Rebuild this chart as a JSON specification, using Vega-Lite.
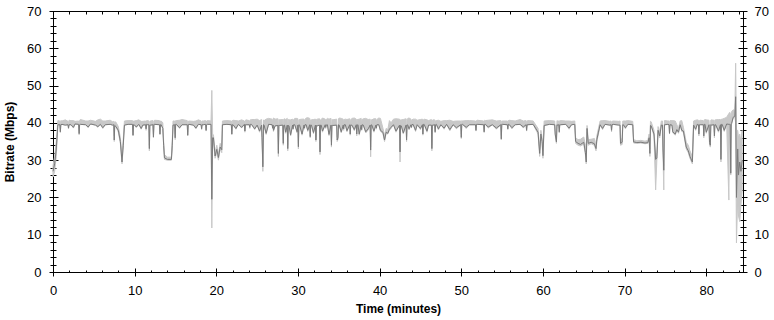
{
 "$schema": "https://vega.github.io/schema/vega-lite/v6.json",
 "width": 690, "height": 261,
 "autosize": "none",
 "padding": {"left": 53, "top": 11, "right": 31, "bottom": 48},
 "background": "white",
 "config": {
  "view": {"stroke": null},
  "axis": {"labelFont": "Liberation Sans", "labelFontSize": 13, "labelColor": "black", "tickColor": "black", "domainColor": "black", "titleFont": "Liberation Sans", "titleFontSize": 12, "titleFontWeight": "bold", "titleColor": "black", "grid": false, "labelFlush": false, "labelOverlap": false, "labelBound": false, "tickWidth": 1, "domainWidth": 1}
 },
 "data": {"values": [
{"t":0,"v":27,"lo":25.5,"hi":28.5},{"t":0.2,"v":29,"lo":27,"hi":31},{"t":0.4,"v":33,"lo":31,"hi":35},{"t":0.6,"v":39.5,"lo":39.5,"hi":40.6},{"t":0.9,"v":37.6,"lo":37.4,"hi":38.5},{"t":1.1,"v":39.6,"lo":39.6,"hi":40.5},{"t":1.5,"v":39.4,"lo":39.4,"hi":40.8},{"t":1.9,"v":38.6,"lo":38.4,"hi":39.4},{"t":2.2,"v":39.5,"lo":39.5,"hi":40.6},{"t":2.7,"v":39.7,"lo":39.7,"hi":40.4},{"t":3.2,"v":37.1,"lo":36.8,"hi":38},{"t":3.35,"v":39.6,"lo":39.6,"hi":40.9},{"t":4.0,"v":39.5,"lo":39.5,"hi":40.5},{"t":4.6,"v":39.7,"lo":39.7,"hi":40.7},{"t":5.2,"v":39.4,"lo":39.4,"hi":40.4},{"t":5.8,"v":39.6,"lo":39.6,"hi":41.0},{"t":6.4,"v":39.5,"lo":39.5,"hi":40.5},{"t":7.0,"v":39.6,"lo":39.6,"hi":40.7},{"t":7.3,"v":39.4,"lo":39.4,"hi":40.3},{"t":7.5,"v":35.4,"lo":35,"hi":36.5},{"t":7.7,"v":39.0,"lo":39,"hi":40.2},{"t":8.0,"v":38.0,"lo":37.5,"hi":39},{"t":8.25,"v":35,"lo":34.5,"hi":36},{"t":8.45,"v":29.5,"lo":29,"hi":31},{"t":8.6,"v":34,"lo":33.5,"hi":35.5},{"t":8.75,"v":39.4,"lo":39.4,"hi":40.5},{"t":9.2,"v":39.6,"lo":39.6,"hi":40.6},{"t":9.8,"v":36.7,"lo":36.5,"hi":37.5},{"t":9.95,"v":39.5,"lo":39.5,"hi":40.5},{"t":10.5,"v":39.6,"lo":39.6,"hi":40.8},{"t":11.0,"v":39.4,"lo":39.4,"hi":40.4},{"t":11.4,"v":38.4,"lo":38,"hi":39.2},{"t":11.6,"v":39.5,"lo":39.5,"hi":40.6},{"t":11.8,"v":33.1,"lo":32.5,"hi":34},{"t":11.95,"v":39.4,"lo":39.4,"hi":40.5},{"t":12.3,"v":36.2,"lo":36,"hi":37},{"t":12.45,"v":39.6,"lo":39.6,"hi":40.7},{"t":13.1,"v":37,"lo":36.8,"hi":38},{"t":13.25,"v":39.5,"lo":39.5,"hi":40.5},{"t":13.45,"v":38.5,"lo":38.5,"hi":40},{"t":13.55,"v":34,"lo":34,"hi":35},{"t":13.65,"v":30.6,"lo":30.2,"hi":31.5},{"t":14.0,"v":30.2,"lo":30,"hi":30.8},{"t":14.5,"v":30.2,"lo":30,"hi":30.8},{"t":14.6,"v":34,"lo":33,"hi":35},{"t":14.7,"v":39.4,"lo":39.4,"hi":40.5},{"t":14.96,"v":36,"lo":35.5,"hi":37},{"t":15.1,"v":39.6,"lo":39.6,"hi":40.6},{"t":15.8,"v":39.5,"lo":39.5,"hi":40.9},{"t":16.5,"v":36.7,"lo":36.5,"hi":37.5},{"t":16.65,"v":39.6,"lo":39.6,"hi":40.5},{"t":17.2,"v":39.4,"lo":39.4,"hi":40.4},{"t":17.8,"v":39.6,"lo":39.6,"hi":40.8},{"t":18.2,"v":38.4,"lo":38.2,"hi":39.2},{"t":18.4,"v":39.5,"lo":39.5,"hi":40.5},{"t":18.75,"v":38,"lo":37.8,"hi":38.8},{"t":18.9,"v":39.6,"lo":39.6,"hi":40.6},{"t":19.35,"v":39.6,"lo":39.6,"hi":40.5},{"t":19.45,"v":19.5,"lo":11.8,"hi":48.7},{"t":19.55,"v":36,"lo":35,"hi":37},{"t":19.65,"v":36,"lo":35,"hi":36.8},{"t":19.85,"v":31.1,"lo":30.5,"hi":32},{"t":20.06,"v":32.9,"lo":32,"hi":34},{"t":20.26,"v":30.7,"lo":30,"hi":31.5},{"t":20.47,"v":33.5,"lo":33,"hi":34.5},{"t":20.67,"v":32.8,"lo":32,"hi":34},{"t":20.75,"v":39.5,"lo":39.5,"hi":40.5},{"t":21.3,"v":39.6,"lo":39.6,"hi":40.6},{"t":21.9,"v":37,"lo":36.8,"hi":37.8},{"t":22.05,"v":39.5,"lo":39.5,"hi":40.7},{"t":22.7,"v":39.6,"lo":39.6,"hi":40.5},{"t":23.5,"v":37.8,"lo":37.5,"hi":38.5},{"t":23.65,"v":39.5,"lo":39.5,"hi":40.8},{"t":24.1,"v":38.8,"lo":38.5,"hi":39.8},{"t":24.3,"v":39.6,"lo":39.6,"hi":40.9},{"t":25.0,"v":39.4,"lo":39.4,"hi":41.0},{"t":25.6,"v":36,"lo":35.5,"hi":37},{"t":25.7,"v":28.2,"lo":27,"hi":29},{"t":25.85,"v":39.4,"lo":39.4,"hi":40.6},{"t":26.4,"v":39.6,"lo":39.6,"hi":41.2},{"t":26.9,"v":38.6,"lo":38.4,"hi":40},{"t":27.2,"v":39.2,"lo":39.2,"hi":41},{"t":27.6,"v":31.8,"lo":31,"hi":32.8},{"t":27.75,"v":39.3,"lo":39.3,"hi":40.8},{"t":28.2,"v":34.5,"lo":34,"hi":35.5},{"t":28.35,"v":39.4,"lo":39.4,"hi":41.1},{"t":28.75,"v":33.1,"lo":32.5,"hi":34},{"t":28.9,"v":39.2,"lo":39.2,"hi":40.8},{"t":29.4,"v":38.4,"lo":38.2,"hi":39.8},{"t":29.6,"v":39.5,"lo":39.5,"hi":41.2},{"t":30.05,"v":33.6,"lo":33,"hi":34.5},{"t":30.2,"v":39.4,"lo":39.4,"hi":40.9},{"t":30.8,"v":38.6,"lo":38.3,"hi":40},{"t":31.0,"v":39.5,"lo":39.5,"hi":41.3},{"t":31.5,"v":36.3,"lo":36,"hi":37.2},{"t":31.65,"v":39.4,"lo":39.4,"hi":40.8},{"t":32.2,"v":35.4,"lo":35,"hi":36.3},{"t":32.35,"v":39.2,"lo":39.2,"hi":41},{"t":32.7,"v":32.2,"lo":31.5,"hi":33},{"t":32.85,"v":39.4,"lo":39.4,"hi":40.9},{"t":33.4,"v":38.8,"lo":38.5,"hi":40.2},{"t":33.6,"v":39.5,"lo":39.5,"hi":41.2},{"t":34.1,"v":34,"lo":33.5,"hi":35},{"t":34.25,"v":39.3,"lo":39.3,"hi":40.8},{"t":34.8,"v":35.4,"lo":35,"hi":36.3},{"t":34.9,"v":36,"lo":35.5,"hi":37},{"t":35.05,"v":39.4,"lo":39.4,"hi":41.3},{"t":35.6,"v":38.4,"lo":38,"hi":39.6},{"t":35.8,"v":39.5,"lo":39.5,"hi":41},{"t":36.4,"v":37,"lo":36.7,"hi":38},{"t":36.6,"v":39.4,"lo":39.4,"hi":41.2},{"t":37.2,"v":37,"lo":36.5,"hi":38},{"t":37.35,"v":39.5,"lo":39.5,"hi":40.9},{"t":37.8,"v":38.2,"lo":38,"hi":39.5},{"t":38.0,"v":39.4,"lo":39.4,"hi":41.1},{"t":38.9,"v":32.7,"lo":30.9,"hi":33.5},{"t":39.05,"v":39.4,"lo":39.4,"hi":40.8},{"t":39.6,"v":38.6,"lo":38.3,"hi":39.9},{"t":39.9,"v":39.5,"lo":39.5,"hi":41.3},{"t":40.4,"v":37.5,"lo":37.2,"hi":38.6},{"t":40.6,"v":35.4,"lo":35,"hi":36.5},{"t":40.8,"v":37.5,"lo":37.2,"hi":38.5},{"t":41.0,"v":37.2,"lo":37,"hi":38.2},{"t":41.4,"v":38.8,"lo":38.5,"hi":40},{"t":41.7,"v":39.5,"lo":39.5,"hi":41},{"t":42.5,"v":32.2,"lo":29.5,"hi":33},{"t":42.65,"v":39.2,"lo":39.2,"hi":40.8},{"t":43.3,"v":35.4,"lo":35,"hi":36.3},{"t":43.45,"v":39.4,"lo":39.4,"hi":41.2},{"t":43.9,"v":38.8,"lo":38.6,"hi":40.2},{"t":44.1,"v":39.6,"lo":39.6,"hi":41},{"t":44.6,"v":39.5,"lo":39.5,"hi":40.7},{"t":45.3,"v":37,"lo":36.7,"hi":38},{"t":45.45,"v":39.6,"lo":39.6,"hi":41},{"t":46.0,"v":39.4,"lo":39.4,"hi":40.6},{"t":46.4,"v":33.1,"lo":32.5,"hi":34},{"t":46.55,"v":39.4,"lo":39.4,"hi":40.8},{"t":46.8,"v":37.6,"lo":37.3,"hi":38.6},{"t":46.95,"v":39.6,"lo":39.6,"hi":40.6},{"t":47.5,"v":39.5,"lo":39.5,"hi":40.4},{"t":48.2,"v":39.6,"lo":39.6,"hi":40.6},{"t":49.0,"v":39.5,"lo":39.5,"hi":40.4},{"t":50.0,"v":36.1,"lo":35.8,"hi":37},{"t":50.15,"v":39.6,"lo":39.6,"hi":40.5},{"t":51.0,"v":39.5,"lo":39.5,"hi":40.6},{"t":51.8,"v":38,"lo":37.8,"hi":38.8},{"t":51.95,"v":39.6,"lo":39.6,"hi":40.7},{"t":52.8,"v":37.6,"lo":37.4,"hi":38.5},{"t":52.95,"v":39.6,"lo":39.6,"hi":40.6},{"t":53.8,"v":39.5,"lo":39.5,"hi":40.8},{"t":54.9,"v":35.7,"lo":35.4,"hi":36.6},{"t":55.05,"v":39.6,"lo":39.6,"hi":40.5},{"t":55.7,"v":38.4,"lo":38.2,"hi":39.3},{"t":55.85,"v":39.6,"lo":39.6,"hi":40.7},{"t":56.6,"v":39.5,"lo":39.5,"hi":40.5},{"t":57.2,"v":39.6,"lo":39.6,"hi":40.9},{"t":58.0,"v":38,"lo":37.8,"hi":39},{"t":58.15,"v":39.5,"lo":39.5,"hi":40.6},{"t":58.8,"v":39.6,"lo":39.6,"hi":40.5},{"t":59.4,"v":37.5,"lo":37,"hi":38.5},{"t":59.6,"v":31.8,"lo":31,"hi":33},{"t":59.75,"v":37,"lo":36.5,"hi":38},{"t":59.9,"v":35,"lo":34.5,"hi":36},{"t":60.0,"v":31.2,"lo":30.5,"hi":32.5},{"t":60.15,"v":39.3,"lo":39.3,"hi":40.5},{"t":60.8,"v":39.6,"lo":39.6,"hi":40.6},{"t":61.5,"v":37,"lo":36.8,"hi":38},{"t":61.65,"v":34.9,"lo":34.5,"hi":35.8},{"t":61.8,"v":39.4,"lo":39.4,"hi":40.5},{"t":62.0,"v":37.6,"lo":37.3,"hi":38.5},{"t":62.15,"v":39.5,"lo":39.5,"hi":40.6},{"t":62.8,"v":39.6,"lo":39.6,"hi":40.5},{"t":63.5,"v":39.5,"lo":39.5,"hi":40.4},{"t":63.9,"v":39.6,"lo":39.6,"hi":40.5},{"t":64.0,"v":35,"lo":34.5,"hi":36},{"t":64.3,"v":34.5,"lo":34,"hi":35.5},{"t":64.6,"v":34.2,"lo":33.8,"hi":35.6},{"t":65.0,"v":34.8,"lo":34.3,"hi":36.2},{"t":65.2,"v":32,"lo":31.5,"hi":34},{"t":65.3,"v":29.5,"lo":29,"hi":31},{"t":65.4,"v":38.5,"lo":37.5,"hi":39.3},{"t":65.55,"v":34.5,"lo":34,"hi":35.5},{"t":65.9,"v":34.8,"lo":34.4,"hi":35.6},{"t":66.3,"v":34.4,"lo":34,"hi":35.8},{"t":66.5,"v":33.1,"lo":32.5,"hi":34},{"t":66.6,"v":35.5,"lo":35,"hi":36.5},{"t":66.8,"v":37.5,"lo":37,"hi":38.5},{"t":67.0,"v":39.5,"lo":39.5,"hi":40.5},{"t":67.6,"v":39.6,"lo":39.6,"hi":40.6},{"t":68.2,"v":39.4,"lo":39.4,"hi":40.4},{"t":68.4,"v":38.0,"lo":37.6,"hi":39},{"t":68.6,"v":39.6,"lo":39.6,"hi":40.5},{"t":69.3,"v":39.4,"lo":39.4,"hi":40.4},{"t":69.5,"v":34.5,"lo":34,"hi":35.5},{"t":69.7,"v":34.8,"lo":34.2,"hi":35.8},{"t":69.85,"v":39.5,"lo":39.5,"hi":40.5},{"t":70.4,"v":39.6,"lo":39.6,"hi":40.6},{"t":71.0,"v":39.5,"lo":39.5,"hi":40.4},{"t":71.1,"v":34.9,"lo":34.6,"hi":35.5},{"t":71.5,"v":34.7,"lo":34.5,"hi":35.2},{"t":72.0,"v":34.8,"lo":34.6,"hi":35.3},{"t":72.5,"v":34.6,"lo":34.4,"hi":35.1},{"t":72.85,"v":34.7,"lo":34.5,"hi":35.3},{"t":73.0,"v":36,"lo":35.5,"hi":37},{"t":73.1,"v":31.8,"lo":31,"hi":33},{"t":73.25,"v":39.2,"lo":39.2,"hi":40.3},{"t":73.6,"v":37,"lo":36.5,"hi":38},{"t":73.8,"v":30.2,"lo":22,"hi":31.5},{"t":73.95,"v":30.5,"lo":30,"hi":32},{"t":74.1,"v":38,"lo":37.5,"hi":39},{"t":74.3,"v":36.5,"lo":36,"hi":37.5},{"t":74.5,"v":39.4,"lo":39.4,"hi":40.5},{"t":74.7,"v":33,"lo":32,"hi":34},{"t":74.8,"v":27.3,"lo":22,"hi":28.5},{"t":74.95,"v":39.5,"lo":39.5,"hi":40.6},{"t":75.3,"v":39.6,"lo":39.6,"hi":40.5},{"t":75.5,"v":37.2,"lo":37,"hi":38.2},{"t":75.8,"v":39.4,"lo":39.4,"hi":40.6},{"t":76.4,"v":38.2,"lo":38,"hi":39.5},{"t":76.6,"v":37.5,"lo":37.2,"hi":38.5},{"t":76.8,"v":39.5,"lo":39.5,"hi":40.5},{"t":77.2,"v":37.8,"lo":37.5,"hi":38.8},{"t":77.55,"v":33.5,"lo":33,"hi":34.8},{"t":77.8,"v":32.5,"lo":32,"hi":34},{"t":78.0,"v":31,"lo":30.5,"hi":32.5},{"t":78.3,"v":29.5,"lo":29,"hi":31},{"t":78.45,"v":39.4,"lo":39.4,"hi":40.5},{"t":78.9,"v":39.6,"lo":39.6,"hi":40.8},{"t":79.1,"v":37,"lo":36.5,"hi":38},{"t":79.25,"v":39.5,"lo":39.5,"hi":40.7},{"t":79.7,"v":36.5,"lo":36,"hi":37.5},{"t":79.85,"v":39.6,"lo":39.6,"hi":40.9},{"t":80.4,"v":34.7,"lo":34.2,"hi":36},{"t":80.5,"v":34,"lo":33.5,"hi":35},{"t":80.6,"v":39.4,"lo":39.4,"hi":40.8},{"t":81.0,"v":36.5,"lo":36,"hi":37.5},{"t":81.15,"v":39.5,"lo":39.5,"hi":40.8},{"t":81.8,"v":30.2,"lo":29.5,"hi":31.5},{"t":81.95,"v":39.6,"lo":39.6,"hi":41},{"t":82.5,"v":39.7,"lo":39.7,"hi":41.5},{"t":82.77,"v":39.6,"lo":19.3,"hi":42.5},{"t":82.85,"v":39.6,"lo":39.6,"hi":42.8},{"t":83.0,"v":26.5,"lo":26,"hi":40},{"t":83.1,"v":39.8,"lo":39.8,"hi":43},{"t":83.3,"v":41.5,"lo":41.3,"hi":43.5},{"t":83.5,"v":41.8,"lo":41.5,"hi":43.3},{"t":83.6,"v":47,"lo":40,"hi":56},{"t":83.7,"v":20,"lo":7.8,"hi":38},{"t":83.85,"v":33,"lo":20,"hi":38},{"t":83.95,"v":26,"lo":15,"hi":36},{"t":84.1,"v":29.5,"lo":13.5,"hi":37},{"t":84.25,"v":27,"lo":18,"hi":35},{"t":84.4,"v":30,"lo":22,"hi":38},
{"t":0.84,"v":39.5,"lo":39.5,"hi":40.5},{"t":0.96,"v":39.5,"lo":39.5,"hi":40.6},{"t":1.84,"v":39.5,"lo":39.5,"hi":40.4},{"t":1.96,"v":39.5,"lo":39.5,"hi":40.7},{"t":3.14,"v":39.6,"lo":39.6,"hi":40.5},{"t":3.26,"v":39.5,"lo":39.5,"hi":40.6},{"t":7.44,"v":39.5,"lo":39.5,"hi":40.4},{"t":7.56,"v":39.3,"lo":39.3,"hi":40.3},{"t":9.74,"v":39.6,"lo":39.6,"hi":40.6},{"t":9.86,"v":39.5,"lo":39.5,"hi":40.5},{"t":11.34,"v":39.5,"lo":39.5,"hi":40.5},{"t":11.46,"v":39.6,"lo":39.6,"hi":40.6},{"t":11.74,"v":39.5,"lo":39.5,"hi":40.5},{"t":11.86,"v":39.4,"lo":39.4,"hi":40.4},{"t":12.24,"v":39.5,"lo":39.5,"hi":40.6},{"t":12.36,"v":39.6,"lo":39.6,"hi":40.5},{"t":13.04,"v":39.5,"lo":39.5,"hi":40.6},{"t":13.16,"v":39.5,"lo":39.5,"hi":40.5},{"t":14.9,"v":39.5,"lo":39.5,"hi":40.5},{"t":15.02,"v":39.6,"lo":39.6,"hi":40.6},{"t":16.44,"v":39.5,"lo":39.5,"hi":40.6},{"t":16.56,"v":39.5,"lo":39.5,"hi":40.4},{"t":18.14,"v":39.5,"lo":39.5,"hi":40.5},{"t":18.26,"v":39.5,"lo":39.5,"hi":40.5},{"t":18.69,"v":39.6,"lo":39.6,"hi":40.6},{"t":18.81,"v":39.5,"lo":39.5,"hi":40.5},{"t":21.84,"v":39.5,"lo":39.5,"hi":40.5},{"t":21.96,"v":39.5,"lo":39.5,"hi":40.6},{"t":23.44,"v":39.6,"lo":39.6,"hi":40.5},{"t":23.56,"v":39.5,"lo":39.5,"hi":40.7},{"t":24.04,"v":39.5,"lo":39.5,"hi":40.6},{"t":24.16,"v":39.6,"lo":39.6,"hi":40.8},{"t":25.54,"v":39.4,"lo":39.4,"hi":40.9},{"t":25.78,"v":39.5,"lo":39.5,"hi":40.8},{"t":26.84,"v":39.5,"lo":39.5,"hi":41},{"t":26.96,"v":39.4,"lo":39.4,"hi":40.8},{"t":27.54,"v":39.3,"lo":39.3,"hi":41.1},{"t":27.66,"v":39.4,"lo":39.4,"hi":40.9},{"t":28.14,"v":39.4,"lo":39.4,"hi":40.9},{"t":28.26,"v":39.3,"lo":39.3,"hi":41},{"t":28.69,"v":39.4,"lo":39.4,"hi":41.2},{"t":28.81,"v":39.3,"lo":39.3,"hi":40.9},{"t":29.34,"v":39.4,"lo":39.4,"hi":41},{"t":29.46,"v":39.5,"lo":39.5,"hi":40.8},{"t":29.99,"v":39.4,"lo":39.4,"hi":41.1},{"t":30.11,"v":39.5,"lo":39.5,"hi":40.8},{"t":30.74,"v":39.4,"lo":39.4,"hi":41},{"t":30.86,"v":39.5,"lo":39.5,"hi":40.9},{"t":31.44,"v":39.5,"lo":39.5,"hi":41.2},{"t":31.56,"v":39.4,"lo":39.4,"hi":40.8},{"t":32.14,"v":39.4,"lo":39.4,"hi":41},{"t":32.26,"v":39.3,"lo":39.3,"hi":40.9},{"t":32.64,"v":39.4,"lo":39.4,"hi":41.1},{"t":32.76,"v":39.4,"lo":39.4,"hi":40.8},{"t":33.34,"v":39.5,"lo":39.5,"hi":41},{"t":33.46,"v":39.4,"lo":39.4,"hi":40.9},{"t":34.04,"v":39.4,"lo":39.4,"hi":41.2},{"t":34.16,"v":39.4,"lo":39.4,"hi":40.9},{"t":34.74,"v":39.4,"lo":39.4,"hi":41},{"t":34.97,"v":39.5,"lo":39.5,"hi":41.1},{"t":35.54,"v":39.4,"lo":39.4,"hi":41},{"t":35.66,"v":39.5,"lo":39.5,"hi":40.9},{"t":36.34,"v":39.5,"lo":39.5,"hi":41.1},{"t":36.46,"v":39.4,"lo":39.4,"hi":40.8},{"t":37.14,"v":39.5,"lo":39.5,"hi":41},{"t":37.26,"v":39.4,"lo":39.4,"hi":40.9},{"t":37.74,"v":39.4,"lo":39.4,"hi":41.2},{"t":37.86,"v":39.5,"lo":39.5,"hi":40.9},{"t":38.84,"v":39.4,"lo":39.4,"hi":41},{"t":38.96,"v":39.5,"lo":39.5,"hi":40.8},{"t":39.54,"v":39.4,"lo":39.4,"hi":41.1},{"t":39.66,"v":39.5,"lo":39.5,"hi":40.9},{"t":42.44,"v":39.4,"lo":39.4,"hi":41},{"t":42.56,"v":39.3,"lo":39.3,"hi":40.8},{"t":43.24,"v":39.4,"lo":39.4,"hi":41.1},{"t":43.36,"v":39.5,"lo":39.5,"hi":40.9},{"t":43.84,"v":39.5,"lo":39.5,"hi":41},{"t":43.96,"v":39.5,"lo":39.5,"hi":40.8},{"t":45.24,"v":39.5,"lo":39.5,"hi":41},{"t":45.36,"v":39.6,"lo":39.6,"hi":40.8},{"t":46.34,"v":39.4,"lo":39.4,"hi":40.9},{"t":46.46,"v":39.4,"lo":39.4,"hi":40.7},{"t":46.74,"v":39.5,"lo":39.5,"hi":40.8},{"t":46.86,"v":39.5,"lo":39.5,"hi":40.6},{"t":49.94,"v":39.5,"lo":39.5,"hi":40.5},{"t":50.06,"v":39.6,"lo":39.6,"hi":40.6},{"t":51.74,"v":39.5,"lo":39.5,"hi":40.5},{"t":51.86,"v":39.6,"lo":39.6,"hi":40.6},{"t":52.74,"v":39.5,"lo":39.5,"hi":40.5},{"t":52.86,"v":39.6,"lo":39.6,"hi":40.7},{"t":54.84,"v":39.5,"lo":39.5,"hi":40.6},{"t":54.96,"v":39.6,"lo":39.6,"hi":40.5},{"t":55.64,"v":39.5,"lo":39.5,"hi":40.5},{"t":55.76,"v":39.6,"lo":39.6,"hi":40.6},{"t":57.94,"v":39.5,"lo":39.5,"hi":40.6},{"t":58.06,"v":39.5,"lo":39.5,"hi":40.5},{"t":61.44,"v":39.5,"lo":39.5,"hi":40.5},{"t":61.72,"v":39.5,"lo":39.5,"hi":40.6},{"t":61.94,"v":39.5,"lo":39.5,"hi":40.5},{"t":62.06,"v":39.5,"lo":39.5,"hi":40.6},{"t":68.34,"v":39.5,"lo":39.5,"hi":40.5},{"t":68.46,"v":39.5,"lo":39.5,"hi":40.4},{"t":69.44,"v":39.4,"lo":39.4,"hi":40.5},{"t":69.78,"v":39.5,"lo":39.5,"hi":40.5},{"t":73.17,"v":39.3,"lo":39.3,"hi":40.4},{"t":74.64,"v":39.4,"lo":39.4,"hi":40.5},{"t":74.88,"v":39.5,"lo":39.5,"hi":40.6},{"t":75.44,"v":39.5,"lo":39.5,"hi":40.5},{"t":75.56,"v":39.5,"lo":39.5,"hi":40.6},{"t":79.04,"v":39.5,"lo":39.5,"hi":40.7},{"t":79.16,"v":39.5,"lo":39.5,"hi":40.6},{"t":79.64,"v":39.5,"lo":39.5,"hi":40.6},{"t":79.76,"v":39.6,"lo":39.6,"hi":40.8},{"t":80.34,"v":39.5,"lo":39.5,"hi":40.7},{"t":80.56,"v":39.5,"lo":39.5,"hi":40.7},{"t":80.94,"v":39.5,"lo":39.5,"hi":40.7},{"t":81.06,"v":39.5,"lo":39.5,"hi":40.8},{"t":81.74,"v":39.5,"lo":39.5,"hi":40.9},{"t":81.86,"v":39.6,"lo":39.6,"hi":41},{"t":82.93,"v":39.6,"lo":39.6,"hi":42.6},{"t":83.06,"v":39.7,"lo":39.7,"hi":42.8},
{"t":2.5,"v":38.8,"lo":38.6,"hi":40.6},{"t":4.3,"v":38.9,"lo":38.7,"hi":40.5},{"t":5.5,"v":39,"lo":38.8,"hi":40.8},{"t":6.1,"v":38.7,"lo":38.5,"hi":40.5},{"t":10.2,"v":38.9,"lo":38.7,"hi":40.6},{"t":10.8,"v":38.5,"lo":38.3,"hi":40.4},{"t":15.5,"v":38.7,"lo":38.5,"hi":40.7},{"t":17.5,"v":38.6,"lo":38.4,"hi":40.5},{"t":22.4,"v":38.5,"lo":38.3,"hi":40.6},{"t":23.1,"v":38.8,"lo":38.6,"hi":40.8},{"t":24.7,"v":38.4,"lo":38.2,"hi":40.9},{"t":25.3,"v":37.8,"lo":37.5,"hi":40.6},{"t":26.1,"v":37.2,"lo":36.9,"hi":41},{"t":27.0,"v":38,"lo":37.7,"hi":41.3},{"t":28.5,"v":37.5,"lo":37.2,"hi":40.9},{"t":29.1,"v":36.8,"lo":36.5,"hi":40.8},{"t":29.9,"v":37.6,"lo":37.3,"hi":41.2},{"t":30.5,"v":37,"lo":36.7,"hi":41},{"t":31.2,"v":38,"lo":37.7,"hi":41.4},{"t":31.9,"v":37.4,"lo":37.1,"hi":40.9},{"t":33.0,"v":37.8,"lo":37.5,"hi":41.3},{"t":33.8,"v":36.9,"lo":36.6,"hi":41},{"t":35.3,"v":37.6,"lo":37.3,"hi":41.2},{"t":36.0,"v":37.9,"lo":37.6,"hi":40.9},{"t":36.9,"v":38.2,"lo":37.9,"hi":41.3},{"t":37.5,"v":37,"lo":36.7,"hi":41},{"t":38.3,"v":37.6,"lo":37.3,"hi":41.2},{"t":38.6,"v":38.4,"lo":38.1,"hi":40.9},{"t":39.3,"v":37.8,"lo":37.5,"hi":41.1},{"t":40.1,"v":38,"lo":37.7,"hi":41.2},{"t":41.2,"v":38.3,"lo":38,"hi":40.6},{"t":42.0,"v":37.8,"lo":37.5,"hi":41.1},{"t":42.9,"v":37.3,"lo":37,"hi":40.9},{"t":43.6,"v":38.4,"lo":38.1,"hi":41.3},{"t":44.4,"v":38,"lo":37.7,"hi":41},{"t":45.0,"v":38.5,"lo":38.2,"hi":40.9},{"t":45.8,"v":37.8,"lo":37.5,"hi":40.8},{"t":47.2,"v":38.4,"lo":38.1,"hi":40.7},{"t":47.9,"v":38.6,"lo":38.3,"hi":40.6},{"t":48.6,"v":38.2,"lo":37.9,"hi":40.7},{"t":49.4,"v":38.7,"lo":38.4,"hi":40.5},{"t":50.6,"v":38.8,"lo":38.5,"hi":40.6},{"t":53.3,"v":38.9,"lo":38.6,"hi":40.7},{"t":54.3,"v":38.6,"lo":38.3,"hi":40.5},{"t":56.2,"v":38.7,"lo":38.4,"hi":40.6},{"t":57.6,"v":38.9,"lo":38.6,"hi":40.5},{"t":63.2,"v":38.6,"lo":38.3,"hi":40.5},{"t":67.3,"v":38.5,"lo":38.2,"hi":40.6},{"t":70.1,"v":38.7,"lo":38.4,"hi":40.5},{"t":75.9,"v":37.6,"lo":37.3,"hi":40.6},{"t":76.2,"v":37,"lo":36.7,"hi":40.5},{"t":77.0,"v":38,"lo":37.7,"hi":40.6},{"t":78.7,"v":38.3,"lo":38,"hi":40.7},{"t":80.0,"v":37.5,"lo":37.2,"hi":40.8},{"t":81.5,"v":37.8,"lo":37.5,"hi":40.9},{"t":82.2,"v":38,"lo":37.7,"hi":41.2}
 ]},
 "resolve": {"axis": {"x": "independent", "y": "independent"}},
 "layer": [
  {
   "mark": {"type": "area", "color": "#c8c8c8", "stroke": "#c8c8c8", "strokeWidth": 1},
   "encoding": {
    "x": {"field": "t", "type": "quantitative", "scale": {"domain": [0, 84.5], "nice": false, "zero": false},
      "axis": {"orient": "bottom", "values": [0,10,20,30,40,50,60,70,80], "title": "Time (minutes)", "domain": false, "offset": -4, "tickSize": 8, "labelPadding": 8, "titlePadding": 6}},
    "y": {"field": "lo", "type": "quantitative", "scale": {"domain": [0, 70], "nice": false, "zero": false},
      "axis": {"orient": "left", "values": [0,10,20,30,40,50,60,70], "title": "Bitrate (Mbps)", "domain": false, "offset": -5, "tickSize": 9, "labelPadding": 8, "titlePadding": 10}},
    "y2": {"field": "hi"}
   }
  },
  {
   "mark": {"type": "line", "color": "#7a7a7a", "strokeWidth": 1},
   "encoding": {
    "x": {"field": "t", "type": "quantitative",
      "axis": {"orient": "bottom", "values": [2,4,6,8,12,14,16,18,22,24,26,28,32,34,36,38,42,44,46,48,52,54,56,58,62,64,66,68,72,74,76,78,82,84], "title": null, "labels": false, "domain": false, "offset": -2, "tickSize": 2}},
    "y": {"field": "v", "type": "quantitative",
      "axis": {"orient": "left", "values": [2,4,6,8,12,14,16,18,22,24,26,28,32,34,36,38,42,44,46,48,52,54,56,58,62,64,66,68], "title": null, "labels": false, "domain": false, "offset": -3, "tickSize": 6}}
   }
  },
  {
   "mark": {"type": "point", "opacity": 0},
   "encoding": {
    "x": {"field": "t", "type": "quantitative",
      "axis": {"orient": "top", "values": [2,4,6,8,10,12,14,16,18,20,22,24,26,28,30,32,34,36,38,40,42,44,46,48,50,52,54,56,58,60,62,64,66,68,70,72,74,76,78,80,82,84], "title": null, "labels": false, "domain": false, "offset": -3, "tickSize": 3}},
    "y": {"field": "v", "type": "quantitative",
      "axis": {"orient": "right", "values": [0,10,20,30,40,50,60,70], "title": null, "domain": false, "offset": -5, "tickSize": 9, "labelPadding": 7}}
   }
  },
  {
   "mark": {"type": "point", "opacity": 0},
   "encoding": {
    "x": {"field": "t", "type": "quantitative",
      "axis": {"orient": "bottom", "title": null, "labels": false, "ticks": false, "domain": true, "offset": 0}},
    "y": {"field": "v", "type": "quantitative",
      "axis": {"orient": "right", "values": [2,4,6,8,12,14,16,18,22,24,26,28,32,34,36,38,42,44,46,48,52,54,56,58,62,64,66,68], "title": null, "labels": false, "domain": false, "offset": -3, "tickSize": 6}}
   }
  },
  {
   "mark": {"type": "point", "opacity": 0},
   "encoding": {
    "x": {"field": "t", "type": "quantitative",
      "axis": {"orient": "top", "title": null, "labels": false, "ticks": false, "domain": true, "offset": 0}},
    "y": {"field": "v", "type": "quantitative",
      "axis": {"orient": "left", "title": null, "labels": false, "ticks": false, "domain": true, "offset": 0}}
   }
  },
  {
   "mark": {"type": "point", "opacity": 0},
   "encoding": {
    "x": {"field": "t", "type": "quantitative", "axis": null},
    "y": {"field": "v", "type": "quantitative",
      "axis": {"orient": "right", "title": null, "labels": false, "ticks": false, "domain": true, "offset": 0}}
   }
  }
 ]
}
